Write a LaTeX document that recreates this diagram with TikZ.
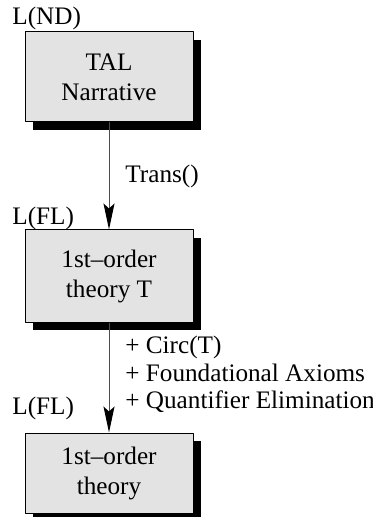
\documentclass[tikz,border=0pt]{standalone}
\usepackage{fontspec}
\setmainfont{Liberation Serif}
\usetikzlibrary{arrows.meta,shadows}
\tikzset{
  theory/.style={draw, fill=gray!22, line width=0.5pt, minimum width=84pt, align=center,
    drop shadow={shadow xshift=4pt, shadow yshift=-4pt, fill=black, opacity=1}},
  lang/.style={anchor=base west, inner sep=0pt},
  note/.style={anchor=base west, inner sep=0pt}
}
\begin{document}
\begin{tikzpicture}[x=0.5pt, y=-0.5pt, >={Stealth[length=13pt,width=5.5pt,inset=2.5pt,color=black]}, font=\fontsize{12.6}{15}\selectfont, line join=round]
	\useasboundingbox (0,0) rectangle (372,517);
	% boxes
	\node[theory, minimum height=45pt] (tal) at (109,77) {TAL\\Narrative};
	\node[theory, minimum height=46pt] (fot) at (109,276) {1st--order\\theory T};
	\node[theory, minimum height=40pt] (fo) at (109,473) {1st--order\\theory};
	% languages
	\node[lang] (lnd) at (12,25) {L(ND)};
	\node[lang] (lfl1) at (12,225) {L(FL)};
	\node[lang] (lfl2) at (12,414) {L(FL)};
	% arrows
	\draw[->, line width=0.5pt, black!70] (tal) -- (fot);
	\draw[->, line width=0.5pt, black!70] (fot) -- (fo);
	\node[note] (trans) at (125,183) {Trans()};
	\node[note] (circ) at (125,353) {+ Circ(T)};
	\node[note] (found) at (125,381) {+ Foundational Axioms};
	\node[note] (quant) at (125,408) {+ Quantifier Elimination};
\end{tikzpicture}
\end{document}
